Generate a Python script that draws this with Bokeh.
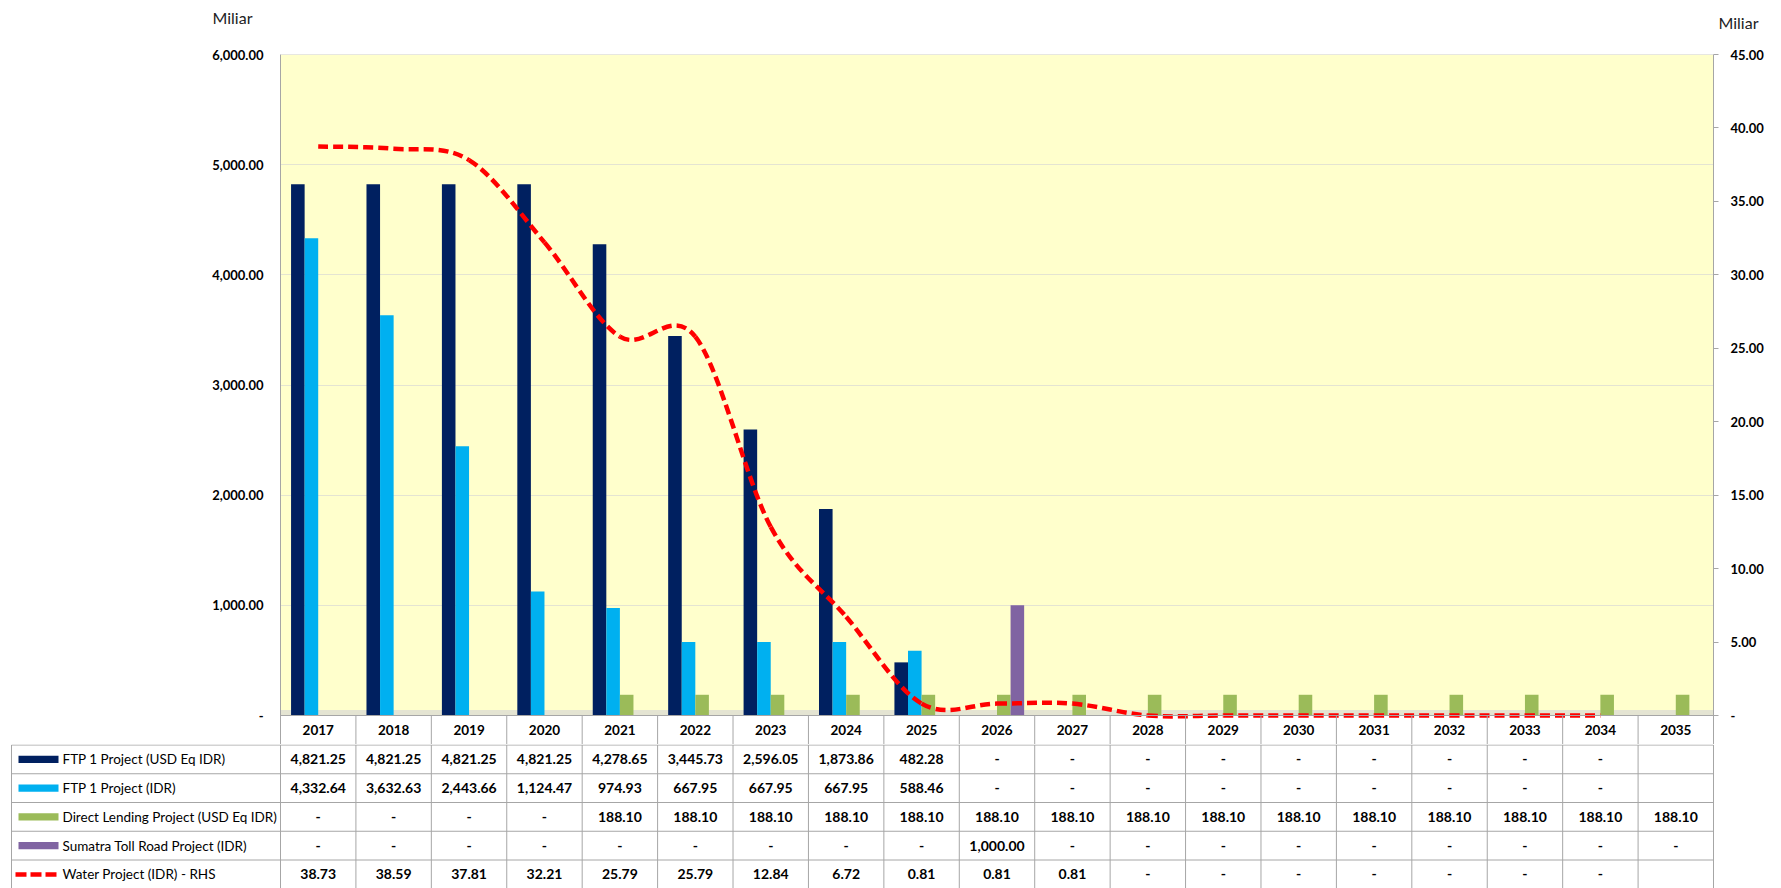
import numpy as np
from bokeh.plotting import figure
from bokeh.models import Range1d, LinearAxis, FixedTicker, Grid, BoxAnnotation, Span
from bokeh.embed import file_html
from bokeh.resources import INLINE
from bokeh.core.properties import value

# ---------------- data ----------------
years = [str(y) for y in range(2017, 2036)]
ftp_usd = [4821.25, 4821.25, 4821.25, 4821.25, 4278.65, 3445.73, 2596.05, 1873.86, 482.28,
           0, 0, 0, 0, 0, 0, 0, 0, 0, None]
ftp_idr = [4332.64, 3632.63, 2443.66, 1124.47, 974.93, 667.95, 667.95, 667.95, 588.46,
           0, 0, 0, 0, 0, 0, 0, 0, 0, None]
direct_lending = [0, 0, 0, 0, 188.10, 188.10, 188.10, 188.10, 188.10, 188.10, 188.10,
                  188.10, 188.10, 188.10, 188.10, 188.10, 188.10, 188.10, 188.10]
sumatra = [0, 0, 0, 0, 0, 0, 0, 0, 0, 1000.00, 0, 0, 0, 0, 0, 0, 0, 0, 0]
water = [38.73, 38.59, 37.81, 32.21, 25.79, 25.79, 12.84, 6.72, 0.81, 0.81, 0.81,
         0, 0, 0, 0, 0, 0, 0, None]
series_names = ["FTP 1 Project (USD Eq IDR)", "FTP 1 Project (IDR)",
                "Direct Lending Project (USD Eq IDR)", "Sumatra Toll Road Project (IDR)",
                "Water Project (IDR) - RHS"]
left_ticks = [0, 1000, 2000, 3000, 4000, 5000, 6000]
right_ticks = [0, 5, 10, 15, 20, 25, 30, 35, 40, 45]
unit_label = "Miliar"

# ---------------- style / layout (pixels) ----------------
COLORS = ["#002060", "#00B0F0", "#9BBB59", "#8064A2", "#FF0000"]
FONT = "Lato"
W = 1781
N = len(years)
PL, PR, PT, PB = 280, 1713, 54, 715      # plot area on the page
U = (PR - PL) / N                         # px per category
HEAD_H = 40
HDR = 29                                  # year header row height (px)
CHART_H = PB + HDR - HEAD_H
TABLE_TOP = PB + HDR
TABLE_H = 888 - TABLE_TOP
ROW = 28.75
BAR_W = 0.18
offsets = [-1.5 * BAR_W, -0.5 * BAR_W, 0.5 * BAR_W, 1.5 * BAR_W]
GRID_C = "#e4e4d2"
LINE_C = "#a6a6a6"
LMAX, RMAX = 6000, 45
LPX = LMAX / (PB - PT)                    # left units per px
RPX = RMAX / (PB - PT)                    # right units per px

def lbl(v):
    return "-" if v == 0 else f"{v:,.2f}"

def xu(px):
    return (px - PL) / U

# ---------------- header strip with unit labels ----------------
h = figure(width=W, height=HEAD_H, x_range=Range1d(xu(0), xu(W)), y_range=Range1d(HEAD_H, 0),
           output_backend="svg", toolbar_location=None, x_axis_location=None,
           y_axis_location=None, min_border=0, outline_line_color=None)
h.grid.visible = False
h.text(x=[xu(212), xu(1718)], y=[17, 22], text=[unit_label, unit_label],
       text_font=value(FONT), text_font_size="16px", text_align="left",
       text_baseline="middle", text_color="#222222")

# ---------------- chart (plot area + year header row) ----------------
p = figure(width=W, height=CHART_H, x_range=Range1d(0, N),
           y_range=Range1d(-HDR * LPX, LMAX),
           output_backend="svg", toolbar_location=None, x_axis_location=None,
           min_border_left=PL, min_border_right=W - PR,
           min_border_top=PT - HEAD_H, min_border_bottom=0,
           background_fill_color="white", border_fill_color="white",
           outline_line_color=None)
p.extra_y_ranges = {"right": Range1d(-HDR * RPX, RMAX)}

plot_bg = BoxAnnotation(bottom=0, fill_color="#FFFFCC", fill_alpha=1.0, line_color=None,
                        level="underlay")
p.xgrid.visible = False
p.ygrid.ticker = FixedTicker(ticks=left_ticks)
p.ygrid.grid_line_color = GRID_C

yax = p.yaxis[0]
yax.ticker = FixedTicker(ticks=left_ticks)
yax.major_label_overrides = {t: lbl(t) for t in left_ticks}
yax.major_tick_line_color = None
yax.minor_tick_line_color = None
yax.major_tick_out = 0
yax.major_label_standoff = 17
yax.axis_line_color = LINE_C
yax.major_label_text_font = FONT
yax.major_label_text_font_style = "bold"
yax.major_label_text_font_size = "13px"
yax.major_label_text_color = "black"

rax = LinearAxis(y_range_name="right", ticker=FixedTicker(ticks=right_ticks))
rax.major_label_overrides = {t: lbl(t) for t in right_ticks}
rax.axis_line_color = LINE_C
rax.major_tick_line_color = LINE_C
rax.major_tick_out = 5
rax.major_tick_in = 0
rax.minor_tick_line_color = None
rax.major_label_standoff = 12
rax.major_label_text_font = FONT
rax.major_label_text_font_style = "bold"
rax.major_label_text_font_size = "13px"
rax.major_label_text_color = "black"
p.add_layout(rax, "right")
p.add_layout(Grid(dimension=1, axis=rax, grid_line_color=GRID_C))
p.center = [plot_bg] + list(p.center)
p.add_layout(Span(location=0, dimension="width", line_color=LINE_C, line_width=1))
p.add_layout(Span(location=LMAX, dimension="width", line_color="#d0d0d0", line_width=1))

centers = np.arange(N) + 0.5
bar_series = [ftp_usd, ftp_idr, direct_lending, sumatra]
for vals, off, col in zip(bar_series, offsets, COLORS[:4]):
    tops = [np.nan if v is None else v for v in vals]
    p.vbar(x=centers + off, top=tops, width=BAR_W, bottom=0,
           fill_color=col, line_color=None)

# smoothed water line (Catmull-Rom Bezier segments through the data points)
wx = [c for c, v in zip(centers, water) if v is not None]
wy = [v for v in water if v is not None]
PX = [wx[0]] + wx + [wx[-1]]
PY = [wy[0]] + wy + [wy[-1]]
x0, y0, x1, y1, cx0, cy0, cx1, cy1 = ([] for _ in range(8))
for i in range(len(wx) - 1):
    a, b = i + 1, i + 2
    x0.append(PX[a]); y0.append(PY[a]); x1.append(PX[b]); y1.append(PY[b])
    cx0.append(PX[a] + (PX[b] - PX[a - 1]) / 6); cy0.append(PY[a] + (PY[b] - PY[a - 1]) / 6)
    cx1.append(PX[b] - (PX[b + 1] - PX[a]) / 6); cy1.append(PY[b] - (PY[b + 1] - PY[a]) / 6)
p.bezier(x0=x0, y0=y0, x1=x1, y1=y1, cx0=cx0, cy0=cy0, cx1=cx1, cy1=cy1,
         line_color=COLORS[4], line_width=4.5, line_dash="10 5", y_range_name="right")

# year header row (column separators + labels)
p.segment(x0=list(range(1, N)), x1=list(range(1, N)), y0=[0] * (N - 1),
          y1=[-HDR * LPX] * (N - 1), line_color=LINE_C, line_width=1)
p.text(x=centers, y=[-HDR / 2 * LPX] * N, text=years, text_font=value(FONT),
       text_font_size="13.5px", text_font_style="bold", text_align="center",
       text_baseline="middle", text_color="black")

# ---------------- data table ----------------
y_top = 1 - 0.5 / ROW
t = figure(width=W, height=TABLE_H, x_range=Range1d(xu(0), xu(W)),
           y_range=Range1d(y_top + TABLE_H / ROW, y_top), output_backend="svg",
           toolbar_location=None, x_axis_location=None, y_axis_location=None,
           min_border=0, outline_line_color=None, background_fill_color="white")
t.grid.visible = False

leg_l = xu(11)
n_rows = len(series_names)
hy = list(range(1, n_rows + 1))
t.segment(x0=[leg_l] * n_rows, x1=[N] * n_rows, y0=hy, y1=hy, line_color=LINE_C, line_width=1)
t.segment(x0=list(range(N + 1)), x1=list(range(N + 1)), y0=[1] * (N + 1),
          y1=[n_rows + 1] * (N + 1), line_color=LINE_C, line_width=1)
t.segment(x0=[leg_l], x1=[leg_l], y0=[1], y1=[n_rows + 1], line_color=LINE_C, line_width=1)

all_series = [ftp_usd, ftp_idr, direct_lending, sumatra, water]
for r, vals in enumerate(all_series):
    txt = ["" if v is None else lbl(v) for v in vals]
    t.text(x=centers, y=[r + 1.5] * N, text=txt, text_font=value(FONT),
           text_font_size="14px", text_font_style="bold", text_align="center",
           text_baseline="middle", text_color="black")

sw_l, sw_r = xu(18), xu(58)
row_c = [r + 1.5 for r in range(n_rows)]
t.quad(left=[sw_l] * 4, right=[sw_r] * 4, top=[c - 0.13 for c in row_c[:4]],
       bottom=[c + 0.13 for c in row_c[:4]], fill_color=COLORS[:4], line_color=None)
t.segment(x0=[xu(15)], x1=[sw_r], y0=[row_c[4]], y1=[row_c[4]],
          line_color=COLORS[4], line_width=4.5, line_dash="11 4")
t.text(x=[xu(62)] * n_rows, y=row_c, text=series_names, text_font=value(FONT),
       text_font_size="13.5px", text_align="left", text_baseline="middle", text_color="black")

open("out.html", "w").write(file_html([h, p, t], INLINE))
